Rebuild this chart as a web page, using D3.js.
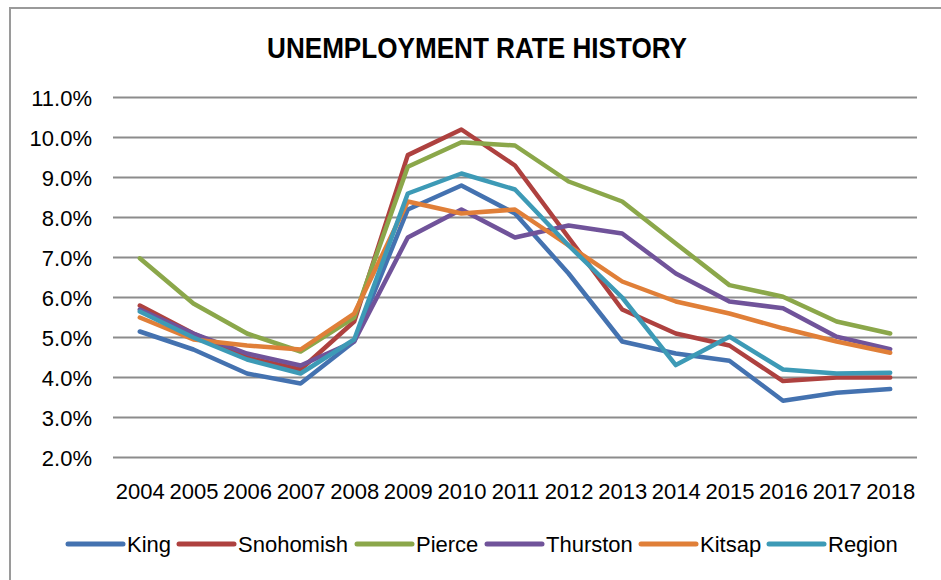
<!DOCTYPE html>
<html lang="en">
<head>
<meta charset="UTF-8">
<title>Unemployment Rate History</title>
<script src="https://d3js.org/d3.v7.min.js"></script>
<style>
  body { margin: 0; background: #fff; }
  svg text { font-family: "Liberation Sans", Arial, sans-serif; fill: #000; }
</style>
</head>
<body>
<div id="chart"></div>
<script>
// years on the x axis
const years = ["2004","2005","2006","2007","2008","2009","2010","2011","2012","2013","2014","2015","2016","2017","2018"];

// unemployment rate (%) per county
const king      = [5.15, 4.7, 4.1, 3.85, 4.9, 8.2, 8.8, 8.1, 6.6, 4.9, 4.6, 4.42, 3.42, 3.62, 3.71];
const snohomish = [5.8, 5.1, 4.5, 4.2, 5.4, 9.56, 10.2, 9.3, 7.5, 5.7, 5.1, 4.8, 3.91, 4.0, 4.0];
const pierce    = [6.98, 5.85, 5.1, 4.65, 5.5, 9.27, 9.88, 9.8, 8.9, 8.4, 7.35, 6.31, 6.02, 5.4, 5.1];
const thurston  = [5.7, 5.1, 4.6, 4.3, 4.9, 7.5, 8.2, 7.5, 7.8, 7.6, 6.6, 5.9, 5.73, 5.02, 4.71];
const kitsap    = [5.5, 4.95, 4.8, 4.7, 5.6, 8.4, 8.1, 8.2, 7.3, 6.4, 5.9, 5.6, 5.23, 4.9, 4.62];
const region    = [5.65, 5.0, 4.45, 4.1, 4.95, 8.6, 9.1, 8.7, 7.3, 6.0, 4.31, 5.02, 4.2, 4.1, 4.12];

const seriesNames = ["King", "Snohomish", "Pierce", "Thurston", "Kitsap", "Region"];
const seriesValues = [king, snohomish, pierce, thurston, kitsap, region];
const colors = ["#4472B0", "#AE413F", "#8BA74A", "#70539A", "#E07F38", "#3D9AB6"];

const yTicks = [2, 3, 4, 5, 6, 7, 8, 9, 10, 11];

const width = 941, height = 580;
const svg = d3.select("#chart").append("svg")
  .attr("width", width)
  .attr("height", height);

// outer chart frame
svg.append("rect")
  .attr("x", 10).attr("y", 8)
  .attr("width", 960).attr("height", 620)
  .attr("fill", "none")
  .attr("stroke", "#9a9a9a")
  .attr("stroke-width", 2);

const plotLeft = 113, plotRight = 917, plotTop = 97.5, plotBottom = 457.5;

const x = d3.scalePoint().domain(years).range([plotLeft, plotRight]).padding(0.5);
const y = d3.scaleLinear().domain([2, 11]).range([plotBottom, plotTop]);

// title (narrowed to match the condensed face of the original)
svg.append("text")
  .attr("transform", "translate(477,58) scale(0.87,1)")
  .attr("text-anchor", "middle")
  .attr("font-size", 30)
  .attr("font-weight", "bold")
  .text("UNEMPLOYMENT RATE HISTORY");

// gridlines
svg.append("g").selectAll("line")
  .data(yTicks)
  .join("line")
  .attr("x1", plotLeft).attr("x2", plotRight)
  .attr("y1", d => y(d)).attr("y2", d => y(d))
  .attr("stroke", "#8c8c8c")
  .attr("stroke-width", 2);

// y axis labels
const yAxis = d3.axisLeft(y).tickValues(yTicks).tickFormat(d => d.toFixed(1) + "%").tickSize(0).tickPadding(0);
svg.append("g")
  .attr("transform", `translate(${plotLeft - 21},0)`)
  .call(yAxis)
  .call(g => g.select(".domain").remove())
  .call(g => g.selectAll("text").attr("font-size", 22).attr("dy", "0.36em"));

// x axis labels
const xAxis = d3.axisBottom(x).tickSize(0).tickPadding(0);
svg.append("g")
  .attr("transform", `translate(0,${plotBottom + 41})`)
  .call(xAxis)
  .call(g => g.select(".domain").remove())
  .call(g => g.selectAll("text").attr("font-size", 22).attr("dy", 0));

// series lines
const line = d3.line().x((d, i) => x(years[i])).y(d => y(d));
svg.append("g").selectAll("path")
  .data(seriesValues)
  .join("path")
  .attr("d", line)
  .attr("fill", "none")
  .attr("stroke", (d, i) => colors[i])
  .attr("stroke-width", 4.5)
  .attr("stroke-linejoin", "round")
  .attr("stroke-linecap", "round");

// legend
const legendX = [68, 179, 357, 487, 641, 769];
const legend = svg.append("g").selectAll("g")
  .data(seriesNames)
  .join("g")
  .attr("transform", (d, i) => `translate(${legendX[i]},544)`);
legend.append("line")
  .attr("x1", 0).attr("x2", 55)
  .attr("stroke", (d, i) => colors[i])
  .attr("stroke-width", 5)
  .attr("stroke-linecap", "round");
legend.append("text")
  .attr("x", 59).attr("y", 8)
  .attr("font-size", 22)
  .text(d => d);
</script>
</body>
</html>
